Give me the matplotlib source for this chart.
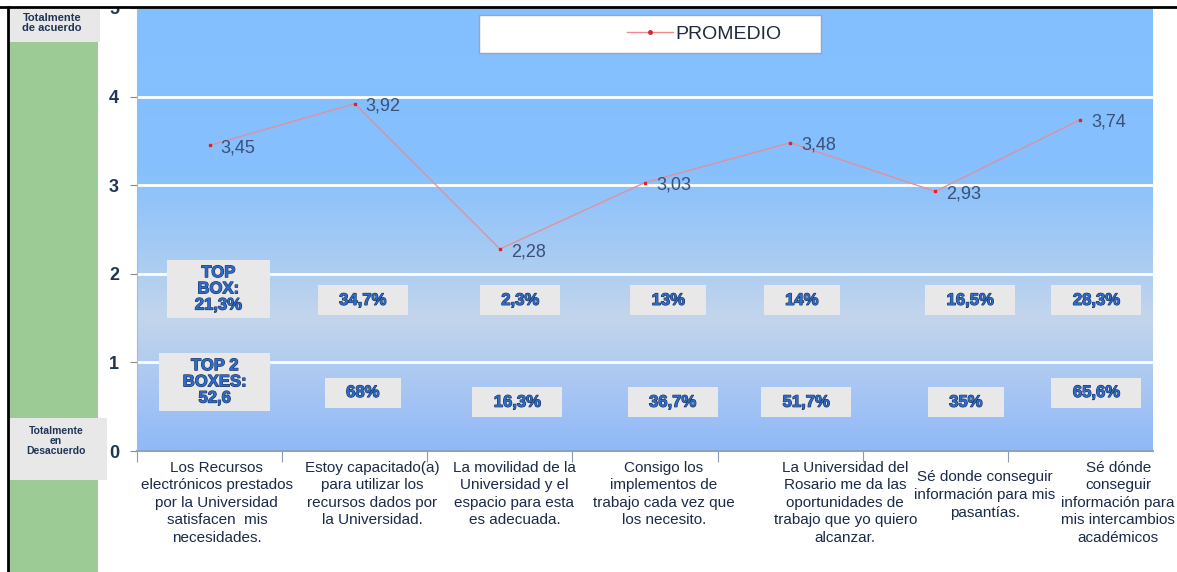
import numpy as np
import matplotlib
matplotlib.use('Agg')
import matplotlib.pyplot as plt
import matplotlib.patheffects as pe
from matplotlib.colors import LinearSegmentedColormap
from matplotlib.patches import Rectangle
from matplotlib.lines import Line2D
import matplotlib.transforms as mtransforms

plt.rcParams['font.family'] = ['Liberation Sans', 'DejaVu Sans']

# Data
categories = [
    'Los Recursos\nelectrónicos prestados\npor la Universidad\nsatisfacen  mis\nnecesidades.',
    'Estoy capacitado(a)\npara utilizar los\nrecursos dados por\nla Universidad.',
    'La movilidad de la\nUniversidad y el\nespacio para esta\nes adecuada.',
    'Consigo los\nimplementos de\ntrabajo cada vez que\nlos necesito.',
    'La Universidad del\nRosario me da las\noportunidades de\ntrabajo que yo quiero\nalcanzar.',
    'Sé donde conseguir\ninformación para mis\npasantías.',
    'Sé dónde\nconseguir\ninformación para\nmis intercambios\nacadémicos',
]
promedio = [3.45, 3.92, 2.28, 3.03, 3.48, 2.93, 3.74]
promedio_labels = ['3,45', '3,92', '2,28', '3,03', '3,48', '2,93', '3,74']
top_box = ['21,3%', '34,7%', '2,3%', '13%', '14%', '16,5%', '28,3%']
top2_boxes = ['52,6', '68%', '16,3%', '36,7%', '51,7%', '35%', '65,6%']

x = np.arange(len(categories))

fig = plt.figure(figsize=(11.77, 5.72), dpi=100)
W, H = 1177, 572

# left green panel
fig.patches.append(Rectangle((9 / W, 0), 89 / W, 1 - 8 / H, transform=fig.transFigure,
                             facecolor='#9CCB95', edgecolor='none', zorder=0))

ax = fig.add_axes([137 / W, 1 - 451 / H, (1153 - 137) / W, (451 - 8) / H])
ax.set_xlim(-0.5, 6.5)
ax.set_ylim(0, 5)

# background gradient
cmap = LinearSegmentedColormap.from_list('bg', [
    (0.0, '#90B9F8'),
    (0.2, '#B2CCF0'),
    (0.3, '#C3D5EC'),
    (0.46, '#A4CAF4'),
    (0.64, '#86C0FD'),
    (1.0, '#83BFFF'),
])
grad = np.linspace(0, 1, 256).reshape(-1, 1)
ax.imshow(grad, cmap=cmap, origin='lower', extent=[-0.5, 6.5, 0, 5], aspect='auto', zorder=0)

for yv in [1, 2, 3, 4]:
    ax.axhline(yv, color='white', lw=2, zorder=1)

# promedio line
ax.plot(x, promedio, color='#EC8A95', lw=0.9, marker='s', markersize=2,
        markerfacecolor='#E0202A', markeredgecolor='#E0202A', zorder=3)
for xi, yi, lab in zip(x, promedio, promedio_labels):
    ax.annotate(lab, (xi, yi), xytext=(8, -2), textcoords='offset points',
                va='center', ha='left', fontsize=13, color='#3A5078', zorder=4)

# legend
ax.add_patch(Rectangle((0.3366, 0.898), 0.3366, 0.086, transform=ax.transAxes,
                       facecolor='white', edgecolor='#9AA5B5', lw=1, zorder=4))
handle = Line2D([], [], color='#F08A92', lw=1, marker='o', markersize=2.5,
                markerfacecolor='#E0202A', markeredgecolor='#E0202A')
leg = ax.legend([handle], ['PROMEDIO'], loc='center left', bbox_to_anchor=(0.482, 0.941),
                frameon=False, fontsize=14, handlelength=2.4, handletextpad=0.1,
                borderpad=0, borderaxespad=0)
leg.set_zorder(5)
for t in leg.get_texts():
    t.set_color('#1F2A3C')

# top box annotations
box_fx = [pe.withStroke(linewidth=0.8, foreground='#1A2E55')]
first_style = dict(boxstyle='square,pad=0.3', facecolor='#E8E8E8', edgecolor='none')
box_style = dict(boxstyle='square,pad=0.45', facecolor='#E8E8E8', edgecolor='none')
top_dx = [0.06, 0.055, 0.14, 0.16, 0.08, 0.24, 0.11]
top2_dx = [0.035, 0.055, 0.12, 0.19, 0.11, 0.21, 0.11]
top2_y = [0.78, 0.66, 0.55, 0.55, 0.55, 0.55, 0.66]

ax.text(x[0] + top_dx[0], 1.83, 'TOP\nBOX:\n     ' + top_box[0] + '     ', ha='center',
        va='center', fontsize=12, fontweight='bold', color='#2F6BC8', linespacing=1.1,
        path_effects=box_fx, zorder=4, bbox=first_style)
ax.text(x[0] + top2_dx[0], top2_y[0], 'TOP 2\n    BOXES:    \n' + top2_boxes[0], ha='center',
        va='center', fontsize=12, fontweight='bold', color='#2F6BC8', linespacing=1.1,
        path_effects=box_fx, zorder=4, bbox=first_style)

for i in range(1, len(categories)):
    ax.text(x[i] + top_dx[i], 1.70, '   ' + top_box[i] + '   ', ha='center', va='center',
            fontsize=12, fontweight='bold', color='#2F6BC8', path_effects=box_fx,
            zorder=4, bbox=box_style)
    ax.text(x[i] + top2_dx[i], top2_y[i], '   ' + top2_boxes[i] + '   ', ha='center',
            va='center', fontsize=12, fontweight='bold', color='#2F6BC8',
            path_effects=box_fx, zorder=4, bbox=box_style)

# category labels
lab_dx = [0.05, 0.12, 0.10, 0.13, 0.38, 0.34, 0.26]
lab_y = [-0.022, -0.022, -0.022, -0.022, -0.022, -0.044, -0.022]
trans = mtransforms.blended_transform_factory(ax.transData, ax.transAxes)
for i, lab in enumerate(categories):
    ax.text(x[i] + lab_dx[i], lab_y[i], lab, transform=trans, ha='center', va='top',
            fontsize=11, color='#1B2A4A', linespacing=1.32, clip_on=False)

# axes styling
ax.set_yticks([0, 1, 2, 3, 4, 5])
ax.set_yticklabels(['0', '1', '2', '3', '4', '5'], fontsize=13, fontweight='bold', color='#1F3556')
ax.tick_params(axis='y', length=5, color='#8A8A8A', pad=8)
ax.set_xticks(np.arange(-0.5, 6, 1.0))
ax.set_xticklabels([])
ax.tick_params(axis='x', length=8, color='#8A9AB0', direction='out')
for s in ['top', 'right']:
    ax.spines[s].set_visible(False)
ax.spines['left'].set_color('#A9B9D0')
ax.spines['bottom'].set_color('#8DA2C0')
ax.spines['bottom'].set_linewidth(1.5)

# side labels
fig.patches.append(Rectangle((9 / W, 1 - 42 / H), 91 / W, 34 / H, transform=fig.transFigure,
                             facecolor='#E8E8E8', edgecolor='none', zorder=1))
fig.text(52 / W, 1 - 23 / H, 'Totalmente\nde acuerdo', ha='center', va='center',
         fontsize=8, fontweight='bold', color='#1F3556', linespacing=1.05)
fig.patches.append(Rectangle((8 / W, 1 - 480 / H), 99 / W, 62 / H, transform=fig.transFigure,
                             facecolor='#E8E8E8', edgecolor='none', zorder=1))
fig.text(56 / W, 1 - 441 / H, 'Totalmente\nen\nDesacuerdo', ha='center', va='center',
         fontsize=7.5, fontweight='bold', color='#1F3556', linespacing=1.05)

# top white strip and black frame lines
fig.patches.append(Rectangle((0, 1 - 7 / H), 1, 7 / H, transform=fig.transFigure,
                             facecolor='white', edgecolor='none', zorder=10))
fig.lines.append(Line2D([0, 1], [1 - 7 / H, 1 - 7 / H], transform=fig.transFigure,
                        color='black', lw=2, zorder=11))
fig.lines.append(Line2D([8 / W, 8 / W], [0, 1 - 7 / H], transform=fig.transFigure,
                        color='black', lw=2, zorder=11))

fig.savefig('out.png', dpi=100)
